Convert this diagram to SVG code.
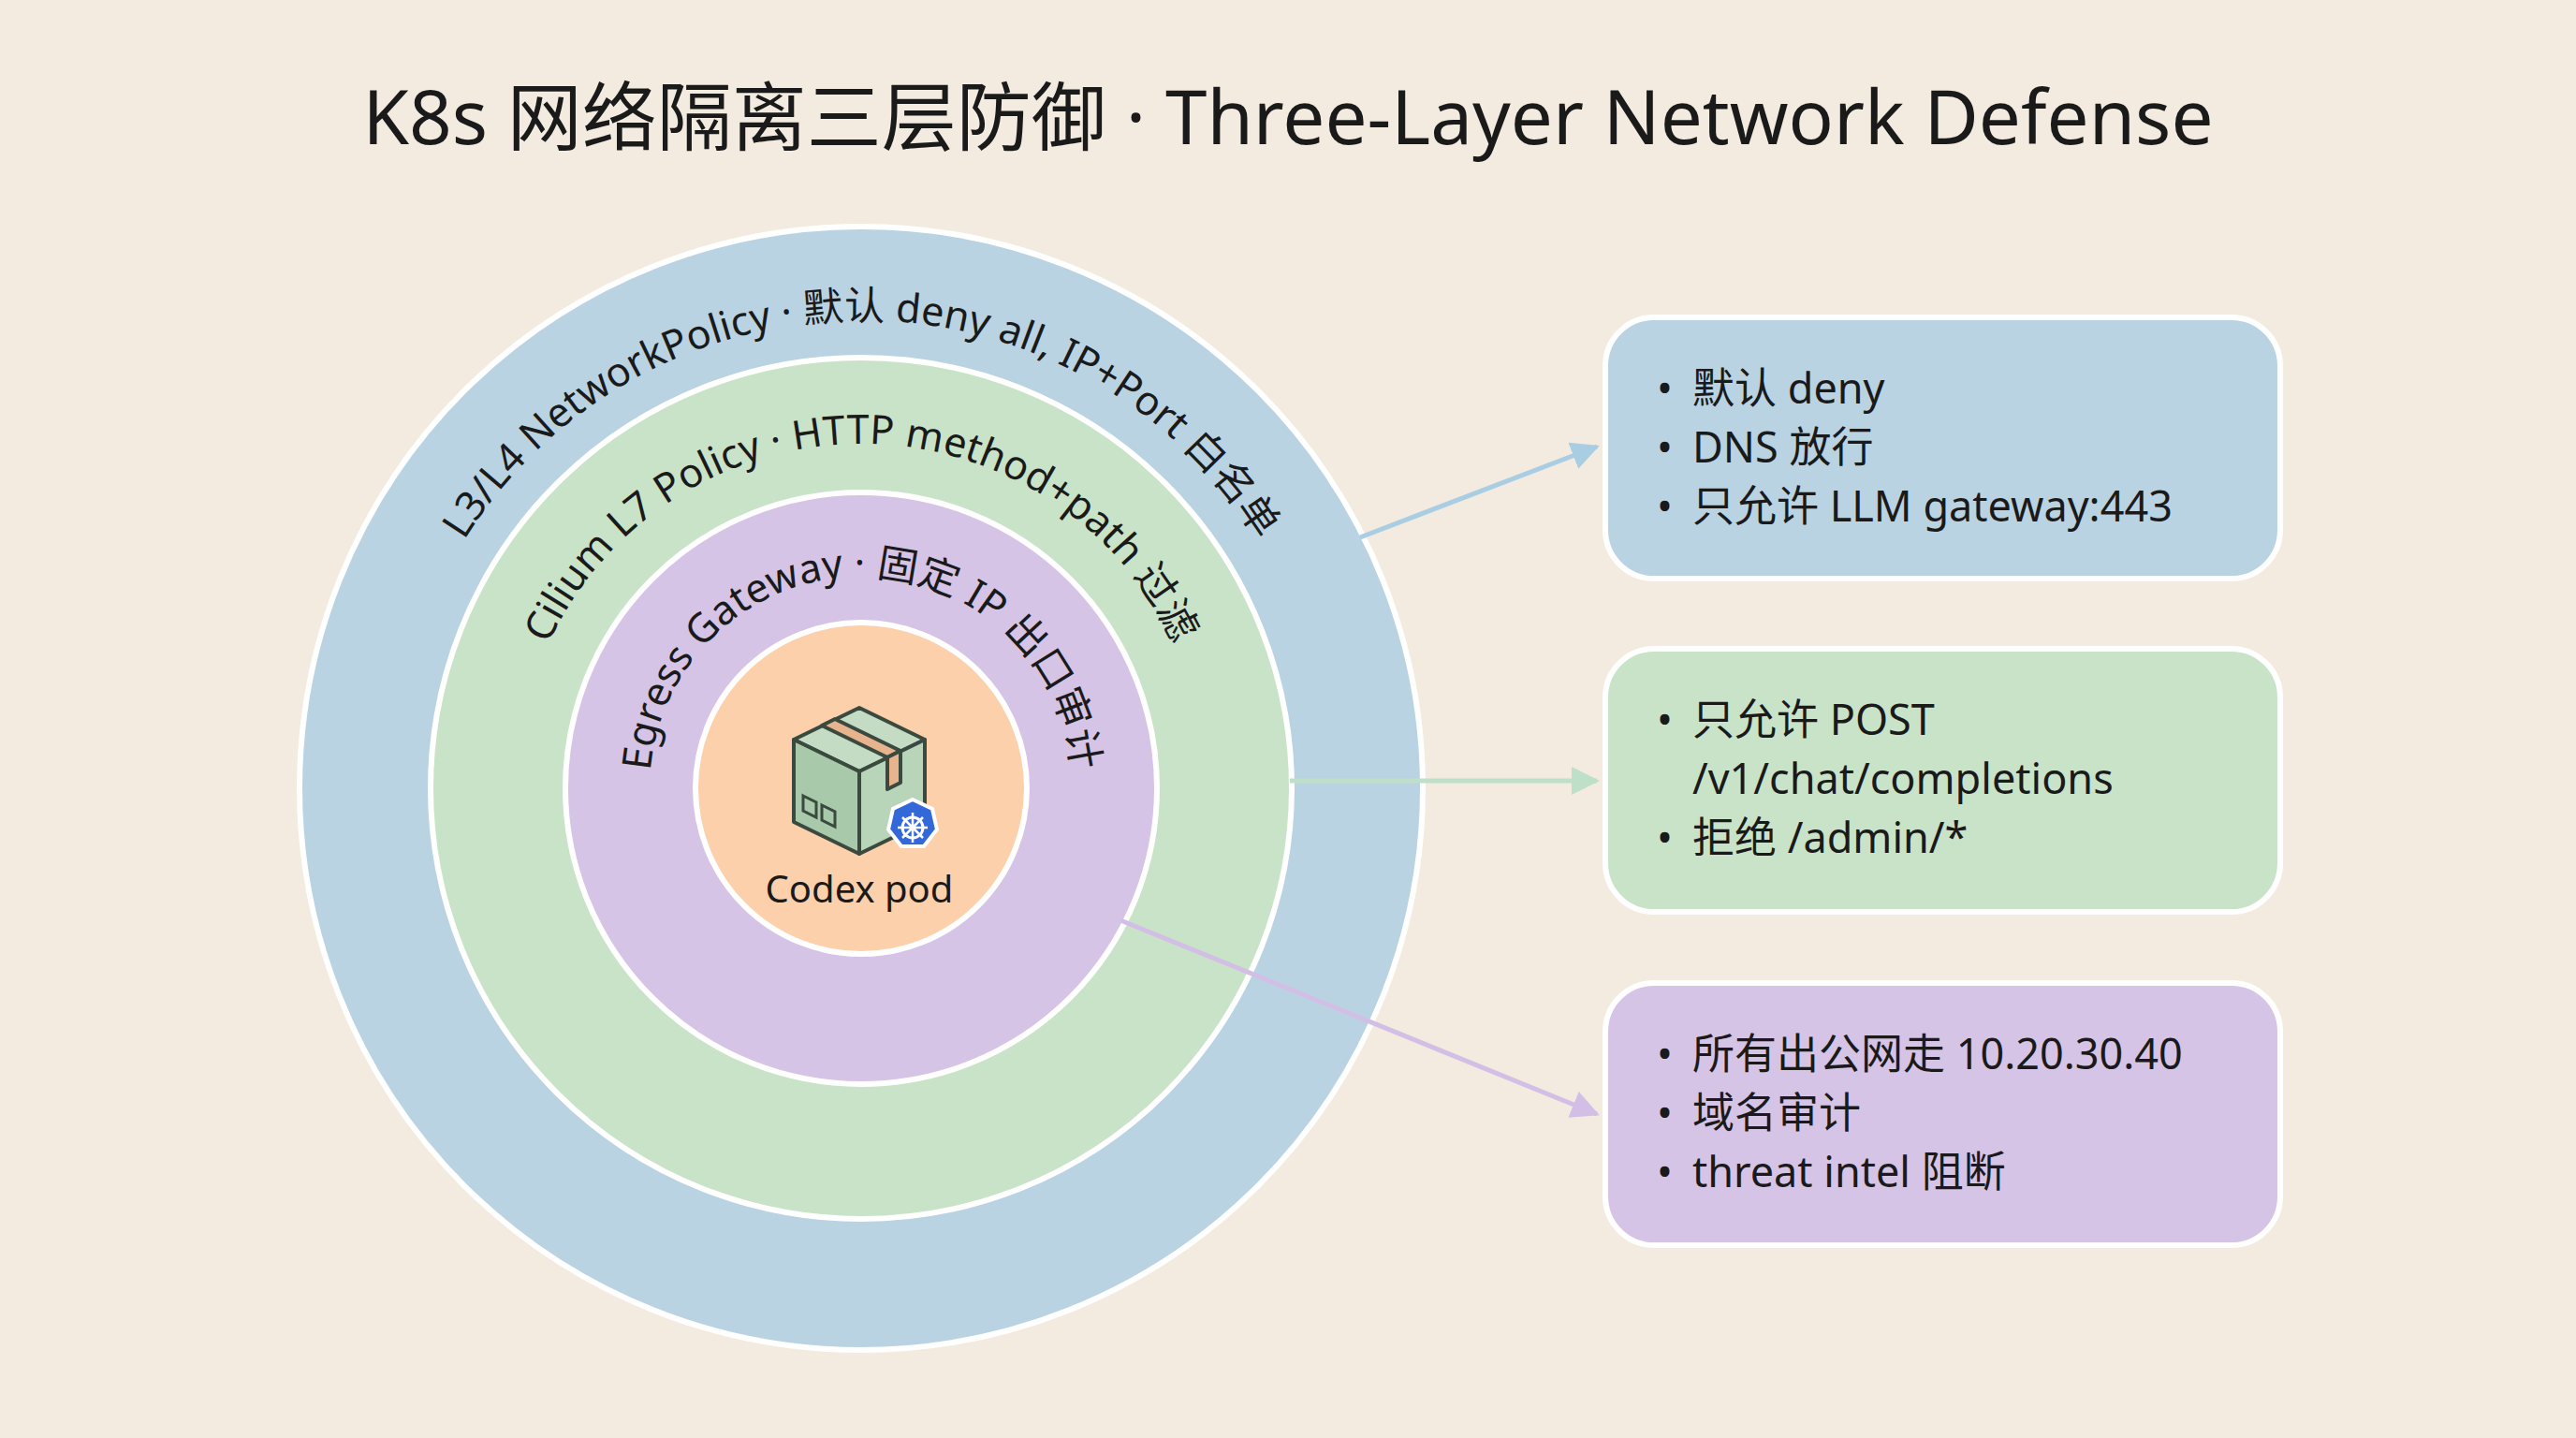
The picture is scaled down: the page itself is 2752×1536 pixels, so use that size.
<svg xmlns="http://www.w3.org/2000/svg" width="2752" height="1536" viewBox="0 0 2752 1536">
<style>
text{font-family:"Noto Sans","Noto Sans CJK SC",sans-serif;fill:#1a1a1a}
.ring{font-size:43px}
.bx{font-size:45px}
.card{stroke:#fff;stroke-width:6}
.conn{stroke-width:5;fill:none}
</style>
<defs>
<path id="a1" d="M420,842 A500,500 0 0 1 1420,842"/>
<path id="a2" d="M552,842 A368,368 0 0 1 1288,842"/>
<path id="a3" d="M694,842 A226,226 0 0 1 1146,842"/>
<marker id="mb" viewBox="0 0 10 10" refX="9" refY="5" markerWidth="6" markerHeight="6" orient="auto"><path d="M0,0L10,5L0,10z" fill="#a9cde3"/></marker>
<marker id="mg" viewBox="0 0 10 10" refX="9" refY="5" markerWidth="6" markerHeight="6" orient="auto"><path d="M0,0L10,5L0,10z" fill="#bfe0c8"/></marker>
<marker id="mp" viewBox="0 0 10 10" refX="9" refY="5" markerWidth="6" markerHeight="6" orient="auto"><path d="M0,0L10,5L0,10z" fill="#d3bfe6"/></marker>
</defs>
<rect width="2752" height="1536" fill="#f3ebe0"/>
<text x="1376" y="154" font-size="80" text-anchor="middle" font-family="Inter,'Noto Sans CJK SC',sans-serif">K8s 网络隔离三层防御 · Three-Layer Network Defense</text>
<g id="layer-l3">
<circle cx="920" cy="842" r="600" fill="#b9d3e3" stroke="#fff" stroke-width="6"/>
<text class="ring"><textPath href="#a1" startOffset="50%" text-anchor="middle">L3/L4 NetworkPolicy · 默认 deny all, IP+Port 白名单</textPath></text>
</g>
<g id="layer-l7">
<circle cx="920" cy="842" r="460" fill="#c9e3c9" stroke="#fff" stroke-width="6"/>
<text class="ring"><textPath href="#a2" startOffset="50%" text-anchor="middle">Cilium L7 Policy · HTTP method+path 过滤</textPath></text>
</g>
<g id="layer-egress">
<circle cx="920" cy="842" r="316" fill="#d6c4e6" stroke="#fff" stroke-width="6"/>
<text class="ring"><textPath href="#a3" startOffset="50%" text-anchor="middle">Egress Gateway · 固定 IP 出口审计</textPath></text>
</g>
<g id="pod">
<circle cx="920" cy="842" r="177" fill="#fdd0ac" stroke="#fff" stroke-width="6"/>
<g stroke="#3a4a3e" stroke-width="4" stroke-linejoin="round">
<path d="M848,790 L918,756 L988,790 L918,824 Z" fill="#c4dcc4"/>
<path d="M848,790 L918,824 L918,912 L848,878 Z" fill="#a9c9ab"/>
<path d="M918,824 L988,790 L988,878 L918,912 Z" fill="#b8d4b9"/>
<path d="M878,775 L948,809 L962,802 L892,768 Z" fill="#e8b48e"/>
<path d="M948,809 L962,802 L962,836 L948,843 Z" fill="#e8b48e"/>
</g>
<path d="M858,850 l14,7 v16 l-14,-7z M878,860 l14,7 v16 l-14,-7z" fill="none" stroke="#3a4a3e" stroke-width="3"/>
<polygon points="975,854 996,864 1001,886 987,904 963,904 949,886 954,864" fill="#3268d8" stroke="#fff" stroke-width="4"/>
<circle cx="975" cy="884" r="11" fill="none" stroke="#fff" stroke-width="3"/>
<path d="M975,868v32M959,884h32M964,873l22,22M986,873l-22,22" stroke="#fff" stroke-width="2.5"/>
<text x="918" y="964" font-size="40" text-anchor="middle">Codex pod</text>
</g>
<g id="card-l3">
<rect class="card" x="1715" y="339" width="721" height="279" rx="52" fill="#b9d3e3"/>
<text class="bx" x="1770" y="431">•</text><text class="bx" x="1808" y="431">默认 deny</text>
<text class="bx" x="1770" y="494">•</text><text class="bx" x="1808" y="494">DNS 放行</text>
<text class="bx" x="1770" y="557">•</text><text class="bx" x="1808" y="557">只允许 LLM gateway:443</text>
</g>
<g id="card-l7">
<rect class="card" x="1715" y="693" width="721" height="281" rx="52" fill="#c9e3c9"/>
<text class="bx" x="1770" y="785">•</text><text class="bx" x="1808" y="785">只允许 POST</text>
<text class="bx" x="1808" y="848">/v1/chat/completions</text>
<text class="bx" x="1770" y="911">•</text><text class="bx" x="1808" y="911">拒绝 /admin/*</text>
</g>
<g id="card-egress">
<rect class="card" x="1715" y="1050" width="721" height="280" rx="52" fill="#d6c4e6"/>
<text class="bx" x="1770" y="1142">•</text><text class="bx" x="1808" y="1142">所有出公网走 10.20.30.40</text>
<text class="bx" x="1770" y="1205">•</text><text class="bx" x="1808" y="1205">域名审计</text>
<text class="bx" x="1770" y="1268">•</text><text class="bx" x="1808" y="1268">threat intel 阻断</text>
</g>
<g id="connectors">
<line class="conn" x1="1453" y1="574" x2="1706" y2="477" stroke="#a9cde3" marker-end="url(#mb)"/>
<line class="conn" x1="1378" y1="834" x2="1706" y2="834" stroke="#bfe0c8" marker-end="url(#mg)"/>
<line class="conn" x1="1197" y1="983" x2="1706" y2="1190" stroke="#d3bfe6" marker-end="url(#mp)"/>
</g>
</svg>
